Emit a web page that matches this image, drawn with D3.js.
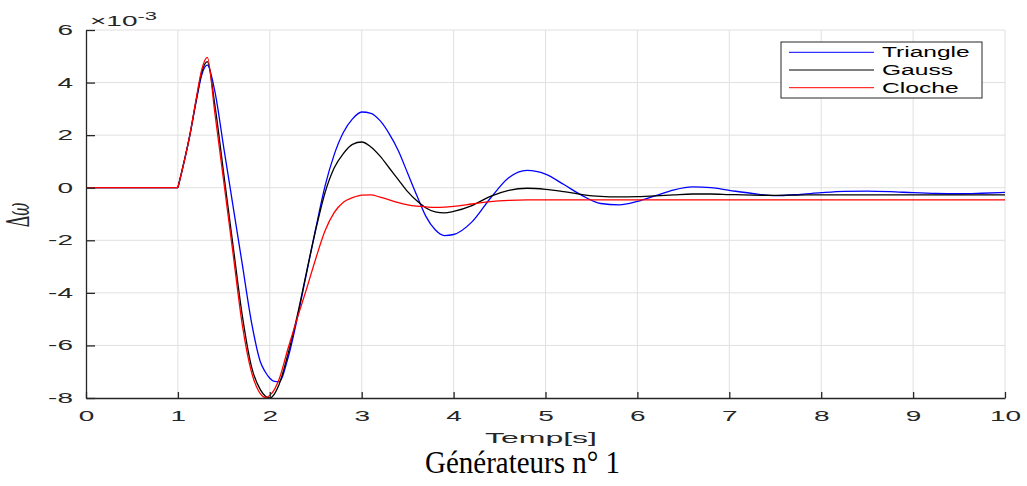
<!DOCTYPE html>
<html lang="en">

<head>
    <meta charset="UTF-8">
    <style>
        body { margin: 0; background: #fff; }
        text { font-family: "Liberation Sans", Arial, sans-serif; fill: #262626; }
    </style>
</head>

<body>
    <script src="https://d3js.org/d3.v7.min.js"></script>
    <script>
        // time samples [s] and the three responses (x 1e-3)
        var timeVals = [0, 1, 1.13, 1.2, 1.26, 1.32, 1.4, 1.5, 1.6, 1.7, 1.8, 1.9, 1.95, 2.0, 2.05, 2.1,
            2.2, 2.3, 2.4, 2.5, 2.6, 2.7, 2.8, 2.9, 3.0, 3.1, 3.2, 3.3, 3.4, 3.5, 3.6, 3.7, 3.8, 3.9, 4.0,
            4.2, 4.4, 4.6, 4.8, 5.0, 5.2, 5.4, 5.6, 5.8, 6.0, 6.2, 6.4, 6.6, 6.8,
            7.0, 7.25, 7.5, 7.75, 8.0, 8.25, 8.5, 8.75, 9.0, 9.25, 9.5, 9.75, 10]

        var triangleVals = [0, 0, 2.0, 3.3, 4.3, 4.66, 3.7, 1.5, -0.7, -2.9, -5.1, -6.65, -7.0, -7.25, -7.37, -7.38,
            -6.45, -4.95, -3.25, -1.55, 0.05, 1.25, 2.1, 2.62, 2.88, 2.83, 2.55, 2.05, 1.4, 0.55, -0.3, -1.1, -1.6, -1.82, -1.78,
            -1.3, -0.4, 0.38, 0.66, 0.52, 0.12, -0.3, -0.6, -0.65, -0.52, -0.3, -0.08, 0.03, 0.0,
            -0.1, -0.22, -0.3, -0.26, -0.19, -0.14, -0.13, -0.15, -0.19, -0.22, -0.23, -0.21, -0.18]

        var gaussVals = [0, 0, 2.0, 3.35, 4.4, 4.80, 3.2, 0.5, -2.2, -4.85, -6.8, -7.7, -7.92, -8.0, -7.85, -7.5,
            -6.3, -4.85, -3.2, -1.6, -0.2, 0.75, 1.3, 1.65, 1.74, 1.55, 1.2, 0.75, 0.3, -0.15, -0.5, -0.77, -0.92, -0.96, -0.9,
            -0.68, -0.33, -0.1, -0.02, -0.06, -0.15, -0.26, -0.33, -0.35, -0.34, -0.31, -0.27, -0.24, -0.24,
            -0.26, -0.28, -0.29, -0.28, -0.27, -0.27, -0.27, -0.27, -0.27, -0.27, -0.27, -0.27, -0.27]

        var clocheVals = [0, 0, 2.0, 3.4, 4.5, 4.96, 2.9, 0.2, -2.5, -5.2, -7.0, -7.85, -7.98, -7.9, -7.68, -7.3,
            -6.1, -4.95, -3.85, -2.7, -1.65, -0.95, -0.55, -0.38, -0.28, -0.27, -0.36, -0.46, -0.57, -0.65, -0.7, -0.73, -0.75, -0.74, -0.71,
            -0.62, -0.53, -0.48, -0.46, -0.46, -0.46, -0.46, -0.46, -0.46, -0.46, -0.46, -0.46, -0.46, -0.46,
            -0.46, -0.46, -0.46, -0.46, -0.46, -0.46, -0.46, -0.46, -0.46, -0.46, -0.46, -0.46, -0.46]

        var seriesNames = ['Triangle', 'Gauss', 'Cloche']
        var seriesColors = ['#0000ff', '#000000', '#ff0000']
        var xTicks = [0, 1, 2, 3, 4, 5, 6, 7, 8, 9, 10]
        var yTicks = [-8, -6, -4, -2, 0, 2, 4, 6]
        var faultTime = 1   // curves are flat before this, sharp corner here

        var svgWidth = 1027, svgHeight = 486
        var plotLeft = 86, plotRight = 1005, plotTop = 30, plotBottom = 398
        var stretch = 2   // the figure's text is drawn wide

        var svg = d3.select('body').append('svg')
            .attr('width', svgWidth)
            .attr('height', svgHeight)

        var xScale = d3.scaleLinear().domain([0, 10]).range([plotLeft, plotRight])
        var yScale = d3.scaleLinear().domain([-8, 6]).range([plotBottom, plotTop])

        // grid
        svg.append('g').selectAll('line')
            .data(xTicks.filter(d => d > 0))
            .enter().append('line')
            .attr('x1', d => xScale(d)).attr('x2', d => xScale(d))
            .attr('y1', plotTop).attr('y2', plotBottom)
            .attr('stroke', '#e0e0e0')
        svg.append('g').selectAll('line')
            .data(yTicks.filter(d => d > -8))
            .enter().append('line')
            .attr('x1', plotLeft).attr('x2', plotRight)
            .attr('y1', d => yScale(d)).attr('y2', d => yScale(d))
            .attr('stroke', '#e0e0e0')

        // curves, blue first so red ends up on top
        var series = [triangleVals, gaussVals, clocheVals]
        var flatLine = d3.line()
            .x(d => xScale(d[0]))
            .y(d => yScale(d[1]))
        var smoothLine = d3.line()
            .x(d => xScale(d[0]))
            .y(d => yScale(d[1]))
            .curve(d3.curveMonotoneX)

        series.forEach((vals, k) => {
            var pts = vals.map((v, i) => [timeVals[i], v])
            var g = svg.append('g')
                .attr('fill', 'none')
                .attr('stroke', seriesColors[k])
                .attr('stroke-width', 1.3)
            g.append('path').attr('d', flatLine(pts.filter(p => p[0] <= faultTime)))
            g.append('path').attr('d', smoothLine(pts.filter(p => p[0] >= faultTime)))
        })

        // axes
        var xAxis = d3.axisBottom(xScale)
            .tickValues(xTicks)
            .tickFormat(d => String(d))
            .tickSizeInner(-6).tickSizeOuter(0).tickPadding(13)
        var gx = svg.append('g')
            .attr('transform', 'translate(0,' + plotBottom + ')')
            .call(xAxis)

        var yAxis = d3.axisLeft(yScale)
            .tickValues(yTicks)
            .tickFormat(d => String(d))
            .tickSizeInner(-9).tickSizeOuter(0).tickPadding(6.5)
        var gy = svg.append('g')
            .attr('transform', 'translate(' + plotLeft + ',0)')
            .call(yAxis)

        ;[gx, gy].forEach(g => {
            g.select('.domain').attr('stroke', '#262626').attr('stroke-width', 1.3)
            g.selectAll('.tick line').attr('stroke', '#262626').attr('stroke-width', 1.3)
            g.selectAll('.tick text')
                .attr('fill', '#262626')
                .attr('transform', 'scale(' + stretch + ',1)')
                .style('font-size', '14px')
                .style('font-family', '"Liberation Sans", Arial, sans-serif')
        })

        // exponent label
        var expo = svg.append('text')
            .attr('transform', 'translate(90,26) scale(' + stretch + ',1)')
            .style('font-size', '14px')
        expo.append('tspan').text('\u00d710')
        expo.append('tspan').attr('dy', -6).style('font-size', '11px').text('-3')

        // y label
        var ylab = svg.append('text')
            .attr('transform', 'translate(29,215) scale(' + stretch + ',1) rotate(-90)')
            .attr('text-anchor', 'middle')
            .style('font-size', '16px')
            .style('font-family', '"DejaVu Serif", serif')
        ylab.append('tspan').text('\u0394')
        ylab.append('tspan').style('font-style', 'italic').text('\u03c9')

        // x label
        svg.append('text')
            .attr('x', 485).attr('y', 443)
            .attr('textLength', 112).attr('lengthAdjust', 'spacingAndGlyphs')
            .style('font-size', '15px')
            .text('Temp[s]')

        // caption under the figure
        svg.append('text')
            .attr('x', 425).attr('y', 473)
            .attr('textLength', 195).attr('lengthAdjust', 'spacingAndGlyphs')
            .style('font-size', '31px')
            .style('font-family', '"Liberation Serif", "Times New Roman", serif')
            .style('fill', '#000')
            .text('G\u00e9n\u00e9rateurs n\u00b0 1')

        // legend
        var legendWidths = [87.7, 71, 76.7]
        var legend = svg.append('g')
        legend.append('rect')
            .attr('x', 781).attr('y', 42)
            .attr('width', 201).attr('height', 56)
            .attr('fill', '#fff')
            .attr('stroke', '#262626')
        seriesNames.forEach((name, k) => {
            var ly = 52.3 + k * 17.7
            legend.append('line')
                .attr('x1', 789).attr('x2', 874)
                .attr('y1', ly).attr('y2', ly)
                .attr('stroke', seriesColors[k])
            legend.append('text')
                .attr('x', 882).attr('y', ly + 5)
                .attr('textLength', legendWidths[k]).attr('lengthAdjust', 'spacingAndGlyphs')
                .style('font-size', '14px')
                .style('fill', '#000')
                .text(name)
        })
    </script>
</body>

</html>
